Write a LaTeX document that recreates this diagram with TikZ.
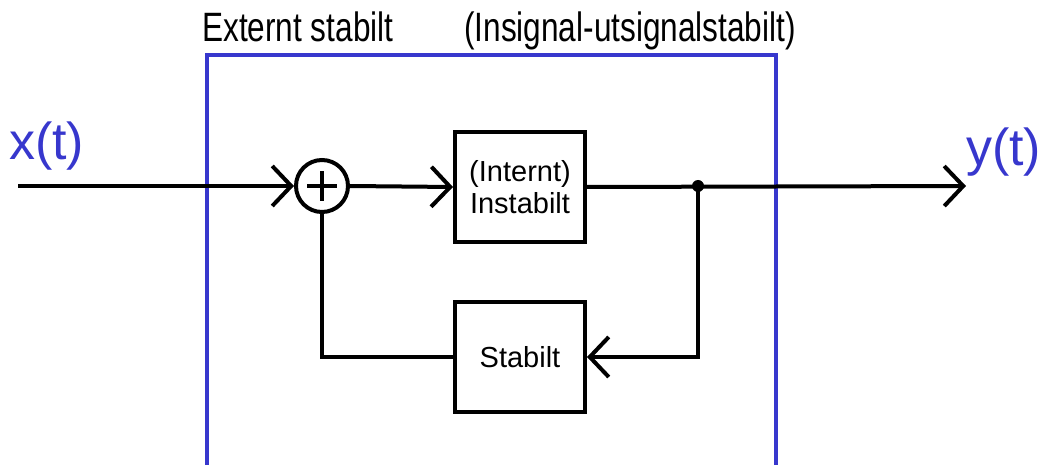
\documentclass[tikz,border=0pt]{standalone}
\usepackage{fontspec}
\setmainfont{Liberation Sans}
\usetikzlibrary{arrows.meta}
\definecolor{frameblue}{RGB}{55,55,205}
\tikzset{
  wire/.style={line width=4pt, black},
  arr/.style={wire, -{Straight Barb[length=19pt,width=40pt]}},
  blockbox/.style={draw, line width=4pt, minimum width=130pt, minimum height=110pt, inner sep=0pt, align=center, font=\fontsize{29}{32}\selectfont},
  sumnode/.style={draw, circle, line width=4pt, minimum size=52pt, inner sep=0pt},
  title/.style={font=\fontsize{41}{44}\selectfont, anchor=base west, inner sep=0pt},
  hand/.style={font=\fontsize{52}{56}\selectfont, text=frameblue, anchor=base west, inner sep=0pt},
}
\begin{document}
\begin{tikzpicture}[x=1pt,y=-1pt]
\useasboundingbox (0,0) rectangle (1044,465);
% outer frame
\draw[line width=4pt, frameblue] (207,465) -- (207,55) -- (776,55) -- (776,465);
\node[title] (t1) at (202,42) {\scalebox{0.77}[1]{Externt stabilt}};
\node[title] (t2) at (464,42) {\scalebox{0.77}[1]{(Insignal-utsignalstabilt)}};
% nodes
\node[sumnode] (s) at (322,186) {};
\draw[wire] ([xshift=-15pt]s.center) -- ([xshift=15pt]s.center);
\draw[wire] ([yshift=-15pt]s.center) -- ([yshift=15pt]s.center);
\node[blockbox] (b1) at (520,187) {(Internt)\\Instabilt};
\node[blockbox] (b2) at (520,357) {Stabilt};
\coordinate (in) at (18,186);
\coordinate (out) at (966,186);
\coordinate (d) at (698,186);
% connectors
\draw[arr] (in) -- (s.west);
\draw[arr] (s.east) -- (b1.west);
\draw[arr] (b1.east) -- (out);
\fill (d) circle (6pt);
\draw[arr] (d) |- (b2.east);
\draw[wire] (b2.west) -| (s.south);
% signals
\node[hand] (x) at (9,160) {x(t)};
\node[hand] (y) at (966,166) {y(t)};
\end{tikzpicture}
\end{document}
